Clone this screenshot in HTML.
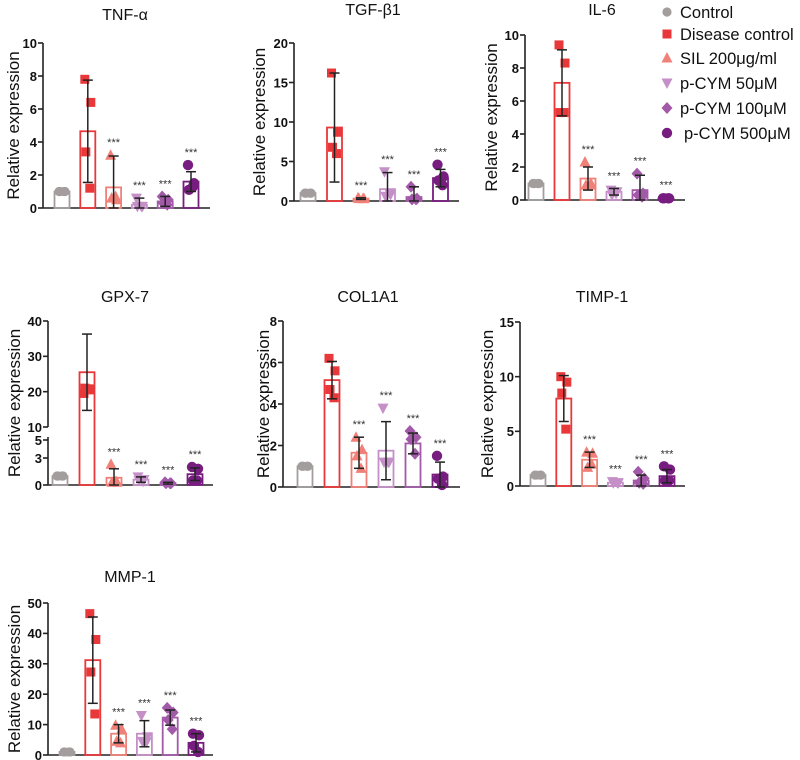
<!DOCTYPE html>
<html><head><meta charset="utf-8"><style>
body{margin:0;background:#fff}
svg{display:block;font-family:"Liberation Sans",sans-serif}
</style></head><body>
<svg id="fig" width="800" height="760" viewBox="0 0 800 760"></svg>
<script>
const groups = ["Control","Disease control","SIL 200μg/ml","p-CYM 50μM","p-CYM 100μM","p-CYM 500μM"];
const colors = ["#a39d9d","#e8383a","#f08078","#c590c8","#a25aa8","#771d80"];
const shapes = ["circle","square","tri","tridown","diamond","bigcircle"];

const tnfMeans=[1,4.65,1.25,0.2,0.4,1.6];
const tnfSD=[0.05,3.1,1.9,0.4,0.3,0.6];
const tnfPts=[[1,1,1,1],[7.8,6.4,3.4,1.2],[3.2,0.5,0.6,0.7],[0.6,0.1,0.1,0.1],[0.7,0.5,0.3,0.2],[2.6,1.5,1.1,1.3]];
const tnfTicks=[0,2,4,6,8,10];

const tgfMeans=[1,9.3,0.3,1.5,0.5,2.9];
const tgfSD=[0.05,6.9,0.1,2.1,1.3,1.1];
const tgfPts=[[1,1,1,1],[16.2,8.7,6.8,6.0],[0.4,0.3,0.3,0.3],[3.7,0.8,0.6,1.0],[1.8,0.3,0.2,0.2],[4.6,3.1,2.6,2.0]];
const tgfTicks=[0,5,10,15,20];

const il6Means=[1,7.1,1.3,0.5,0.6,0.1];
const il6SD=[0.05,2.0,0.7,0.2,0.9,0.05];
const il6Pts=[[1,1,1,1],[9.4,8.3,5.3,5.3],[2.3,1.0,0.9,0.9],[0.6,0.5,0.3,0.4],[1.6,0.4,0.3,0.2],[0.1,0.1,0.1,0.1]];
const il6Ticks=[0,2,4,6,8,10];

const gpxMeans=[1,25.5,0.8,0.6,0.2,1.2];
const gpxSD=[0.05,10.8,1.0,0.3,0.1,0.7];
const gpxPts=[[1,1,1,1],[19.5,20.5,21,20.8],[2.3,0.3,0.3,0.4],[0.9,0.6,0.5,0.4],[0.3,0.2,0.2,0.2],[2.0,1.8,0.5,0.5]];
const gpxTicks=[0,3,5,10,20,30,40];

const colMeans=[1,5.15,1.65,1.75,2.1,0.6];
const colSD=[0.05,0.9,0.75,1.4,0.5,0.6];
const colPts=[[1,1,1,1],[6.2,5.6,4.7,4.3],[2.4,1.8,1.5,0.9],[3.8,1.2,1.2,1.2],[2.7,2.4,2.3,1.6],[1.5,0.5,0.4,0.1]];
const colTicks=[0,2,4,6,8];

const timpMeans=[1,8.0,2.4,0.3,0.5,0.9];
const timpSD=[0.05,2.1,0.7,0.05,0.5,0.6];
const timpPts=[[1,1,1,1],[10,9.5,8.5,5.2],[3.1,3.0,1.7,2.0],[0.4,0.3,0.3,0.3],[1.3,0.7,0.3,0.2],[1.8,1.5,0.5,0.5]];
const timpTicks=[0,5,10,15];

const mmpMeans=[1,31.2,7.0,7.0,12.3,4.0];
const mmpSD=[0.05,14.2,3.0,4.3,2.5,3.0];
const mmpPts=[[1,1,1,1],[46.5,38,27.3,13.5],[9.8,8.5,4.5,4.0],[13,6,4.5,4.3],[15.5,14,11.5,8.5],[7,6.5,3,1]];
const mmpTicks=[0,10,20,30,40,50];

const NS="http://www.w3.org/2000/svg";
const svg=document.getElementById('fig');
function mk(tag,attrs,parent){const e=document.createElementNS(NS,tag);for(const k in attrs)e.setAttribute(k,attrs[k]);(parent||svg).appendChild(e);return e;}

function marker(shape,cx,cy,col,parent){
  let e;
  if(shape==="circle"||shape==="bigcircle") e=mk('circle',{cx,cy,r:shape==="bigcircle"?5.2:4.6,fill:col},parent);
  else if(shape==="square") e=mk('rect',{x:cx-4.5,y:cy-4.5,width:9,height:9,fill:col},parent);
  else if(shape==="tri") e=mk('polygon',{points:`${cx},${cy-6} ${cx+5.5},${cy+4.5} ${cx-5.5},${cy+4.5}`,fill:col},parent);
  else if(shape==="tridown") e=mk('polygon',{points:`${cx},${cy+6} ${cx+5.5},${cy-4.5} ${cx-5.5},${cy-4.5}`,fill:col},parent);
  else e=mk('polygon',{points:`${cx},${cy-6} ${cx+5.5},${cy} ${cx},${cy+6} ${cx-5.5},${cy}`,fill:col},parent);
  return e;
}

function panel(cfg){
  const g=mk('g',{});
  
  
  const y=cfg.scale;
  const t=mk('text',{x:cfg.titleX,y:cfg.titleY,'font-size':16,'text-anchor':'middle',fill:'#111'},g);
  t.textContent=cfg.title;
  
  
  const yl=mk('text',{x:0,y:0,'font-size':17,'text-anchor':'middle',fill:'#111',transform:`translate(${cfg.ylx},${(cfg.y0+cfg.yTop)/2}) rotate(-90)`,dy:6},g);
  yl.textContent="Relative expression";
  
  
  const ax=mk('g',{stroke:'#222','stroke-width':1.6},g);
  
  
  if(cfg.broken){
    mk('line',{x1:cfg.ax,y1:y(40),x2:cfg.ax,y2:y(10)},ax);
    mk('line',{x1:cfg.ax,y1:y(5)-3,x2:cfg.ax,y2:cfg.y0},ax);
  } else mk('line',{x1:cfg.ax,y1:cfg.yTop,x2:cfg.ax,y2:cfg.y0},ax);
  mk('line',{x1:cfg.ax,y1:cfg.y0,x2:cfg.axEnd,y2:cfg.y0},ax);
  cfg.ticks.forEach(v=>{
    const ty=y(v);
    mk('line',{x1:cfg.ax-5,y1:ty,x2:cfg.ax,y2:ty},ax);
    const tl=mk('text',{x:cfg.ax-6,y:ty+4.8,'font-size':13,'font-weight':'bold','text-anchor':'end',fill:'#111',stroke:'none'},g);
    tl.textContent=v;
    
    
  });
  cfg.means.forEach((m,i)=>{
    const cx=cfg.c0+i*cfg.sp;
    const b=mk('rect',{x:cx-7.5,y:y(m),width:15,height:cfg.y0-y(m),fill:'none',stroke:colors[i],'stroke-width':1.8},g);
    
    
    cfg.pts[i].forEach((p,k)=>{
      const off=[-3,3,-2,2][k];
      const mm=marker(shapes[i],cx+off,y(p),colors[i],g);
      
      
    });
    const sd=cfg.sd[i];
    if(sd>0.06){
      const e=mk('g',{stroke:'#222','stroke-width':1.5},g);
      
      
      const lo=Math.max(0,m-sd),hi=m+sd;
      mk('line',{x1:cx,y1:y(hi),x2:cx,y2:y(lo)},e);
      mk('line',{x1:cx-5,y1:y(hi),x2:cx+5,y2:y(hi)},e);
      mk('line',{x1:cx-5,y1:y(lo),x2:cx+5,y2:y(lo)},e);
    }
    if(i>=2){
      const top=Math.min(y(m+sd),...cfg.pts[i].map(y));
      const s=mk('text',{x:cx,y:top-9,'font-size':11,'text-anchor':'middle',fill:'#333'},g);
      s.textContent="***";
      
      
    }
  });
}
function lin(y0,yTop,max){return v=>y0-(v/max)*(y0-yTop);}

panel({id:'tnf',title:'TNF-α',titleX:125,titleY:20,ax:43,axEnd:210,y0:208,yTop:43,ylx:13,c0:62,sp:25.8,scale:lin(208,43,10),ticks:tnfTicks,means:tnfMeans,sd:tnfSD,pts:tnfPts});
panel({id:'tgf',title:'TGF-β1',titleX:373,titleY:15,ax:294,axEnd:459,y0:201,yTop:43,ylx:259,c0:308,sp:26.5,scale:lin(201,43,20),ticks:tgfTicks,means:tgfMeans,sd:tgfSD,pts:tgfPts});
panel({id:'il6',title:'IL-6',titleX:602,titleY:15,ax:525,axEnd:685,y0:200,yTop:35,ylx:491,c0:536,sp:26,scale:lin(200,35,10),ticks:il6Ticks,means:il6Means,sd:il6SD,pts:il6Pts});
const gpxScale=v=> v<=5 ? 485-v*9 : 427-(v-10)*(427-321)/30;
panel({id:'gpx',title:'GPX-7',titleX:125,titleY:302,ax:48,axEnd:213,y0:485,yTop:321,ylx:14,c0:60,sp:27,scale:gpxScale,broken:true,ticks:gpxTicks,means:gpxMeans,sd:gpxSD,pts:gpxPts});
panel({id:'col',title:'COL1A1',titleX:368,titleY:302,ax:283,axEnd:460,y0:487,yTop:321,ylx:263,c0:305,sp:27,scale:lin(487,321,8),ticks:colTicks,means:colMeans,sd:colSD,pts:colPts});
panel({id:'timp',title:'TIMP-1',titleX:602,titleY:302,ax:520,axEnd:685,y0:486,yTop:322,ylx:487,c0:538,sp:25.8,scale:lin(486,322,15),ticks:timpTicks,means:timpMeans,sd:timpSD,pts:timpPts});
panel({id:'mmp',title:'MMP-1',titleX:130,titleY:582,ax:48,axEnd:213,y0:755,yTop:603,ylx:14,c0:67,sp:25.8,scale:lin(755,603,50),ticks:mmpTicks,means:mmpMeans,sd:mmpSD,pts:mmpPts});

const lg=mk('g',{});


const legY=[12,34,58,83,108,133];
groups.forEach((gname,i)=>{
  const m=marker(shapes[i],667,legY[i],colors[i],lg);
  
  
  const tx=mk('text',{x:i===5?684:680,y:legY[i]+6,'font-size':16.5,fill:'#111'},lg);
  tx.textContent=gname;
  
  
});
</script>
</body></html>
